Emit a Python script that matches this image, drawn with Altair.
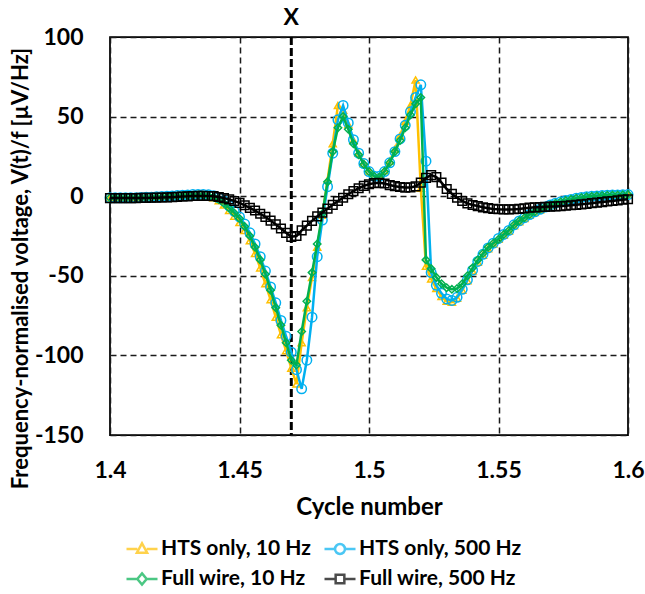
import altair as alt
import pandas as pd

# ---------------- data ----------------
CYCLE = [round(1.4 + 0.002 * i, 3) for i in range(101)]

HTS_10 = [-1.2, -1.2, -1.2, -1.2, -1.2, -1.1, -1.1, -1.0, -0.9, -0.7,
          -0.6, -0.4, -0.2, 0.0, 0.2, 0.4, 0.5, 0.6, 0.4, 0.0,
          -1.0, -2.8, -5.5, -9.0, -12.5, -16.5, -21.5, -28, -36, -45,
          -55, -65, -76, -87, -97, -108, -118, -92, -70, -51,
          -32, -12, 10, 33, 57, 54, 45, 35, 27, 20.5,
          15.5, 12.5, 12.5, 16, 22, 29.5, 38, 47, 57, 73,
          5, -44, -52, -58, -63, -66, -66.5, -64, -59, -53,
          -47, -41.5, -37, -33, -30, -27, -24.5, -22, -18.5, -16,
          -14, -12, -10.2, -8.6, -7.2, -5.9, -4.8, -3.8, -3.0, -2.3,
          -1.6, -1.1, -0.7, -0.3, 0.0, 0.2, 0.4, 0.5, 0.6, 0.7,
          0.8]

HTS_500 = [-1.0, -1.0, -1.0, -1.0, -0.9, -0.9, -0.8, -0.7, -0.6, -0.4,
           -0.2, 0.0, 0.2, 0.4, 0.6, 0.8, 1.0, 1.1, 1.1, 0.9,
           0.3, -1.0, -3.0, -6.0, -9.5, -13, -17.5, -23, -30, -38,
           -47, -57, -67, -78, -88, -98, -109, -121, -103, -76,
           -38, -15, 6, 27, 48, 57, 46, 35.5, 27, 20.5,
           15.5, 12.5, 12.5, 15.5, 21, 28, 36, 44.5, 53, 62,
           70, 22, -48, -56, -61, -64.5, -65.5, -63.5, -58.5, -52.5,
           -46.5, -41, -36.5, -32.5, -29.5, -26.5, -24, -21.5, -18, -15.5,
           -13.5, -11.5, -9.8, -8.2, -6.8, -5.5, -4.4, -3.5, -2.7, -2.0,
           -1.3, -0.8, -0.4, -0.1, 0.2, 0.4, 0.6, 0.7, 0.8, 0.9,
           1.0]

FULL_10 = [-1.0, -1.0, -1.1, -1.1, -1.1, -1.0, -1.0, -0.9, -0.8, -0.6,
           -0.5, -0.3, -0.1, 0.1, 0.3, 0.5, 0.6, 0.7, 0.6, 0.2,
           -0.6, -2.0, -4.5, -7.5, -10.5, -14, -19, -25, -32, -40,
           -49, -59, -70, -81, -92, -103, -106, -85, -66, -48,
           -30, -11, 9, 28, 43, 50, 42, 33, 26, 20,
           15.5, 12.5, 12, 15.5, 21, 28, 35, 43, 51, 58,
           62, -40, -45.5, -51, -55, -57.5, -58.5, -58, -55, -50,
           -45, -40, -36, -32, -29.5, -27, -24, -21.5, -18, -15.5,
           -13.5, -11.5, -9.8, -8.2, -6.8, -5.5, -4.4, -3.5, -2.7, -2.0,
           -1.3, -0.8, -0.4, -0.1, 0.2, 0.4, 0.6, 0.7, 0.8, 0.9,
           1.0]

FULL_500 = [-1.2, -1.2, -1.2, -1.2, -1.2, -1.2, -1.1, -1.1, -1.0, -0.9,
            -0.8, -0.7, -0.6, -0.4, -0.2, -0.1, 0.1, 0.2, 0.2, 0.1,
            0.0, -0.5, -1.2, -2.0, -3.0, -4.2, -5.7, -7.3, -9.0, -11,
            -13, -15.3, -17.7, -20.3, -23, -25.5, -25, -21.5, -18.5, -15.5,
            -12.7, -10.3, -7.8, -5.4, -3.0, -1.0, 1.2, 3.2, 5.0, 6.5,
            7.5, 8.2, 8.4, 8.0, 7.0, 6.3, 5.8, 5.4, 5.5, 6.2,
            8.5, 11.5, 13.2, 12, 8.5, 4.5, 1.5, -1.0, -3.0, -4.5,
            -5.5, -6.2, -7.0, -7.5, -8.0, -8.2, -8.3, -8.3, -8.2, -8.0,
            -7.6, -7.2, -7.0, -6.9, -6.7, -6.5, -6.4, -6.2, -6.0, -5.7,
            -5.4, -5.1, -4.8, -4.4, -4.0, -3.7, -3.3, -3.0, -2.6, -2.2,
            -1.9]

SERIES_NAMES = ["HTS only, 10 Hz", "HTS only, 500 Hz", "Full wire, 10 Hz", "Full wire, 500 Hz"]
SERIES_VALUES = [HTS_10, HTS_500, FULL_10, FULL_500]

X_TICKS = [1.4, 1.45, 1.5, 1.55, 1.6]
Y_TICKS = [-150, -100, -50, 0, 50, 100]
MARKER_X = [1.47]
MARKER_LABEL = ["X"]

# ---------------- styles ----------------
COLORS = ["#FFC000", "#00B0F0", "#00B050", "#000000"]
SHAPES = ["triangle-up", "circle", "diamond", "square"]
SIZES = [50, 90, 55, 75]
LEGEND_PATHS = [
    "M-1,0H-0.3M0.3,0H1M0,-0.36L0.33,0.24L-0.33,0.24Z",
    "M-1,0H-0.32M0.32,0H1M0.32,0A0.32,0.32,0,1,1,-0.32,0A0.32,0.32,0,1,1,0.32,0Z",
    "M-1,0H-0.3M0.3,0H1M0,-0.36L0.3,0L0,0.36L-0.3,0Z",
    "M-1,0H-0.28M0.28,0H1M-0.28,-0.28H0.28V0.28H-0.28Z",
]
FONT = "Lato"
GRID = "#1a1a1a"

rows = []
for name, vals in zip(SERIES_NAMES, SERIES_VALUES):
    for xv, yv in zip(CYCLE, vals):
        rows.append({"series": name, "cycle": xv, "v": yv})
df = pd.DataFrame(rows)

x_scale = alt.Scale(domain=[1.4, 1.6], nice=False, zero=False)
y_scale = alt.Scale(domain=[-150, 100], nice=False, zero=False)

x_axis = alt.Axis(values=X_TICKS, labelExpr="'' + datum.value", grid=True,
                  gridDash=[6, 4], gridColor=GRID, gridWidth=1.5,
                  ticks=False, domain=False, labelFlush=False, labelFont=FONT,
                  labelFontSize=23, labelFontWeight="bold", labelColor="black",
                  labelPadding=24, title="Cycle number", titleFont=FONT,
                  titleFontSize=24, titleFontWeight="bold", titleColor="black",
                  titleY=72, titleBaseline="middle")
y_axis = alt.Axis(values=Y_TICKS, labelExpr="'' + datum.value", grid=True,
                  gridDash=[6, 4], gridColor=GRID, gridWidth=1.5,
                  ticks=False, domain=False, labelFlush=False, labelFont=FONT,
                  labelFontSize=23, labelFontWeight="bold", labelColor="black",
                  labelPadding=27,
                  title="Frequency-normalised voltage, V(t)/f [µV/Hz]",
                  titleFont=FONT, titleFontSize=22, titleFontWeight="bold",
                  titleColor="black", titleAngle=270, titleX=-90, titleY=231,
                  titleAlign="center", titleBaseline="middle")

base = alt.Chart(df)
layers = []
# axes carrier (invisible) so the axes are defined once
layers.append(base.mark_line(opacity=0).encode(
    x=alt.X("cycle:Q", scale=x_scale, axis=x_axis),
    y=alt.Y("v:Q", scale=y_scale, axis=y_axis),
    detail="series:N"))

marker_df = pd.DataFrame({"cycle": MARKER_X, "label": MARKER_LABEL})
layers.append(alt.Chart(marker_df).mark_rule(color="black", strokeWidth=3,
                                              strokeDash=[8, 3]).encode(
    x=alt.X("cycle:Q", scale=x_scale)))

for name, col, shp, sz in zip(SERIES_NAMES, COLORS, SHAPES, SIZES):
    sub = base.transform_filter(alt.datum.series == name)
    layers.append(sub.mark_line(color=col, strokeWidth=2.5).encode(
        x=alt.X("cycle:Q", scale=x_scale), y=alt.Y("v:Q", scale=y_scale)))
    layers.append(sub.mark_point(color=col, shape=shp, size=sz, filled=False,
                                 strokeWidth=1.5, opacity=1).encode(
        x=alt.X("cycle:Q", scale=x_scale), y=alt.Y("v:Q", scale=y_scale)))

layers.append(alt.Chart(marker_df).mark_text(font=FONT, fontSize=23, fontWeight="bold",
                                              color="black", baseline="middle").encode(
    x=alt.X("cycle:Q", scale=x_scale), y=alt.datum(112), text="label:N"))

legend = alt.Legend(title=None, orient="none", legendX=15, legendY=495, columns=2,
                    direction="horizontal", labelLimit=0,
                    labelFont=FONT, labelFontSize=21, labelFontWeight="bold",
                    labelColor="black", symbolSize=961, symbolStrokeWidth=2.5,
                    columnPadding=8, rowPadding=3, labelOffset=2)
legend_df = pd.DataFrame({"series": SERIES_NAMES})
layers.append(alt.Chart(legend_df).mark_point(filled=False, clip=True, strokeWidth=2.5).encode(
    x=alt.value(-500), y=alt.value(-500),
    color=alt.Color("series:N", scale=alt.Scale(domain=SERIES_NAMES, range=COLORS),
                    legend=legend, sort=SERIES_NAMES),
    shape=alt.Shape("series:N", scale=alt.Scale(domain=SERIES_NAMES, range=LEGEND_PATHS),
                    legend=legend, sort=SERIES_NAMES)))

chart = alt.layer(*layers).properties(
    width=518, height=398,
    autosize=alt.AutoSizeParams(type="none"),
    padding={"left": 110, "top": 37, "right": 17, "bottom": 159},
    background="white",
).configure_view(stroke="black", strokeWidth=1.75)

chart.save("out.html", embed_options={"renderer": "svg", "actions": False})
